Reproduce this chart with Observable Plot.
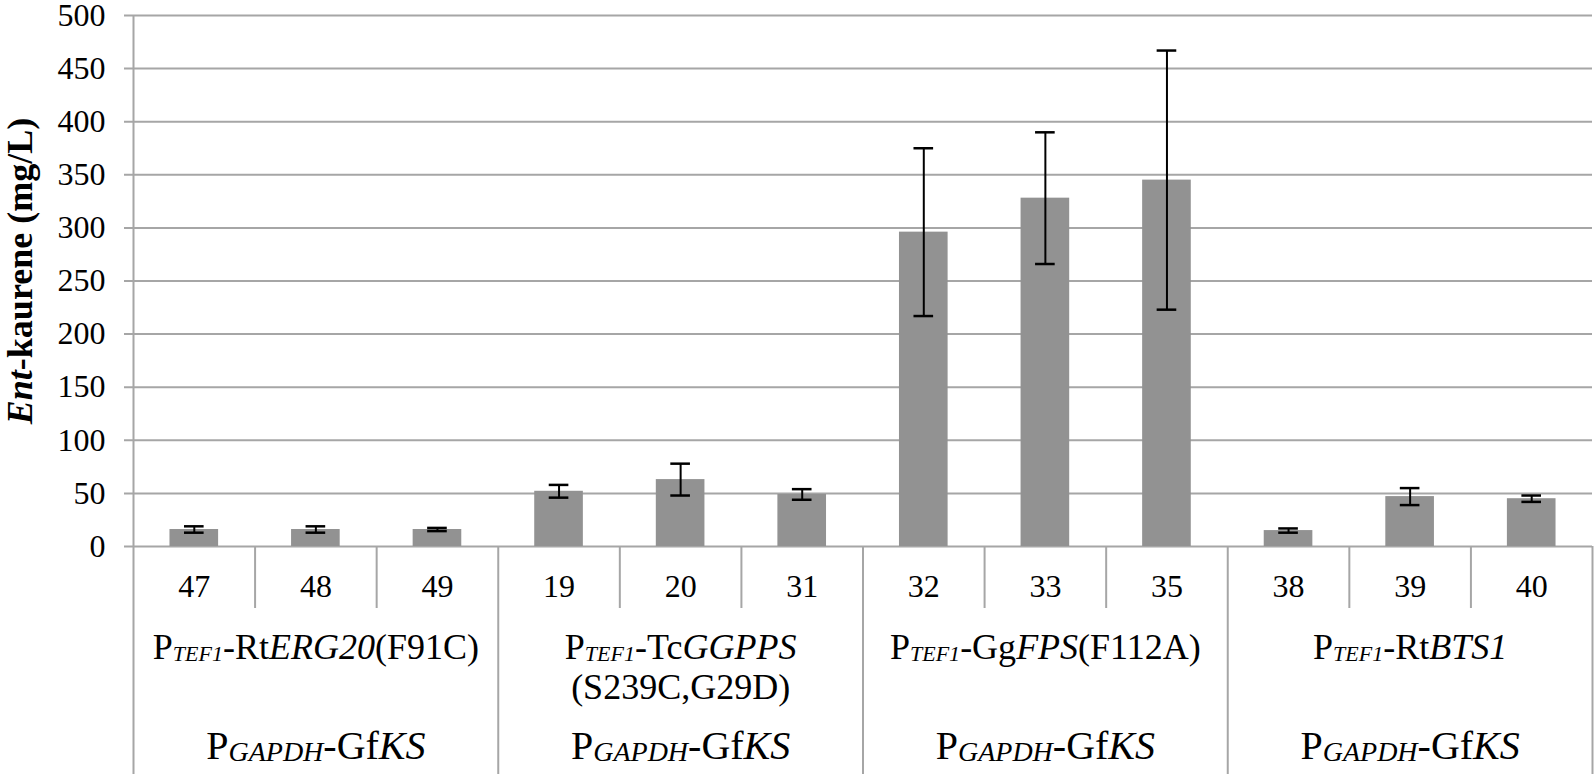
<!DOCTYPE html>
<html>
<head>
<meta charset="utf-8">
<script src="https://cdn.jsdelivr.net/npm/d3@7"></script>
<script src="https://cdn.jsdelivr.net/npm/@observablehq/plot@0.6"></script>
<style>
  html, body { margin: 0; padding: 0; background: #fff; }
  svg { display: block; }
</style>
</head>
<body>
<script>
// ---- data ----
const strains = ["47", "48", "49", "19", "20", "31", "32", "33", "35", "38", "39", "40"];
const kaurene = [16, 16, 16, 52, 63, 49, 296, 328, 345, 15, 47, 45];
const errors  = [3, 3, 1.5, 6, 15, 5, 79, 62, 122, 2, 8, 3];
const yTicks = [0, 50, 100, 150, 200, 250, 300, 350, 400, 450, 500];
// middle strain of each group (for centering labels), first strain of each group
const groupMid = ["48", "20", "33", "39"];
const groupStart = ["47", "19", "32", "38"];
const minorStarts = ["48", "49", "20", "31", "33", "35", "39", "40"];
// rich label segments: [text, style]  style: "" normal, "i" italic, "sub" small italic
const groupLine1 = [
  [["P", ""], ["TEF1", "sub"], ["-Rt", ""], ["ERG20", "i"], ["(F91C)", ""]],
  [["P", ""], ["TEF1", "sub"], ["-Tc", ""], ["GGPPS", "i"]],
  [["P", ""], ["TEF1", "sub"], ["-Gg", ""], ["FPS", "i"], ["(F112A)", ""]],
  [["P", ""], ["TEF1", "sub"], ["-Rt", ""], ["BTS1", "i"]]
];
const groupLine2 = [null, [["(S239C,G29D)", ""]], null, null];
const promoterLabel = [["P", ""], ["GAPDH", "sub"], ["-Gf", ""], ["KS", "i"]];
const yTitle = [["Ent", "i"], ["-kaurene (mg/L)", ""]];

const data = strains.map((s, i) => ({strain: s, v: kaurene[i], e: errors[i]}));

// ---- layout ----
const W = 1594, H = 774, ML = 133, MR = 2, MT = 15, MB = 228;
const step = (W - ML - MR) / strains.length;
const pxPerUnit = (H - MT - MB) / 500;
const yBottom = -MB / pxPerUnit;
const yMinor = -62 / pxPerUnit;
const gridColor = "#a6a6a6";
const FONT = "Liberation Serif";

const line1Data = groupMid.map((m, i) => ({x: m, segs: groupLine1[i]}));
const line2Data = groupMid.map((m, i) => ({x: m, segs: groupLine2[i]})).filter(d => d.segs);
const promoData = groupMid.map(m => ({x: m, segs: promoterLabel}));
const plain = segs => segs.map(s => s[0]).join("");

const chart = Plot.plot({
  width: W, height: H,
  marginLeft: ML, marginRight: MR, marginTop: MT, marginBottom: MB,
  x: {domain: strains, paddingInner: 0.6, paddingOuter: 0.3, round: false, axis: null},
  y: {domain: [0, 500], axis: null},
  marks: [
    Plot.ruleY(yTicks, {stroke: gridColor, strokeWidth: 2, insetLeft: -9}),
    Plot.text(yTicks, {y: d => d, text: d => String(d), frameAnchor: "left", textAnchor: "end", dx: -28, fontSize: 32, fontFamily: FONT}),
    Plot.ruleX([strains[0]], {x: d => d, dx: -step / 2, y1: 500, y2: yBottom, stroke: gridColor, strokeWidth: 2}),
    Plot.ruleX(groupStart.slice(1), {x: d => d, dx: -step / 2, y1: 0, y2: yBottom, stroke: gridColor, strokeWidth: 2}),
    Plot.ruleX([strains[strains.length - 1]], {x: d => d, dx: step / 2, y1: 0, y2: yBottom, stroke: gridColor, strokeWidth: 2}),
    Plot.ruleX(minorStarts, {x: d => d, dx: -step / 2, y1: 0, y2: yMinor, stroke: gridColor, strokeWidth: 2}),
    Plot.barY(data, {x: "strain", y: "v", fill: "#929292"}),
    Plot.ruleX(data, {x: "strain", y1: d => d.v - d.e, y2: d => d.v + d.e, stroke: "#000", strokeWidth: 2}),
    Plot.tickY(data, {x: "strain", y: d => d.v + d.e, stroke: "#000", strokeWidth: 2.5, inset: 14.5}),
    Plot.tickY(data, {x: "strain", y: d => d.v - d.e, stroke: "#000", strokeWidth: 2.5, inset: 14.5}),
    Plot.text(strains, {x: d => d, frameAnchor: "bottom", dy: 50, fontSize: 32, fontFamily: FONT}),
    Plot.text(line1Data, {x: "x", text: d => plain(d.segs), frameAnchor: "bottom", dy: 112, fontSize: 36, fontFamily: FONT}),
    Plot.text(line2Data, {x: "x", text: d => plain(d.segs), frameAnchor: "bottom", dy: 152, fontSize: 36, fontFamily: FONT}),
    Plot.text(promoData, {x: "x", text: d => plain(d.segs), frameAnchor: "bottom", dy: 212, fontSize: 40, fontFamily: FONT}),
    Plot.text([plain(yTitle)], {frameAnchor: "left", textAnchor: "middle", dx: -113, dy: -10, rotate: -90, fontSize: 36, fontWeight: "bold", fontFamily: FONT})
  ]
});

const SVGNS = "http://www.w3.org/2000/svg";
function richify(textEl, segs, subSize, subDy) {
  while (textEl.firstChild) textEl.removeChild(textEl.firstChild);
  let shifted = false;
  for (const [s, style] of segs) {
    const t = document.createElementNS(SVGNS, "tspan");
    t.textContent = s;
    if (style === "i" || style === "sub") t.setAttribute("font-style", "italic");
    if (style === "sub") {
      t.setAttribute("font-size", subSize);
      if (subDy) { t.setAttribute("dy", subDy); shifted = true; }
    } else if (shifted) {
      t.setAttribute("dy", -subDy);
      shifted = false;
    }
    textEl.appendChild(t);
  }
}
const richMap = new Map();
line1Data.forEach(d => richMap.set(plain(d.segs), {segs: d.segs, sub: 22, dy: 2}));
line2Data.forEach(d => richMap.set(plain(d.segs), {segs: d.segs, sub: 22, dy: 2}));
richMap.set(plain(promoterLabel), {segs: promoterLabel, sub: 28, dy: 2});
richMap.set(plain(yTitle), {segs: yTitle, sub: 36, dy: 0});
chart.querySelectorAll("text").forEach(el => {
  const r = richMap.get(el.textContent);
  if (r) richify(el, r.segs, r.sub, r.dy);
});

document.body.appendChild(chart);
</script>
</body>
</html>
